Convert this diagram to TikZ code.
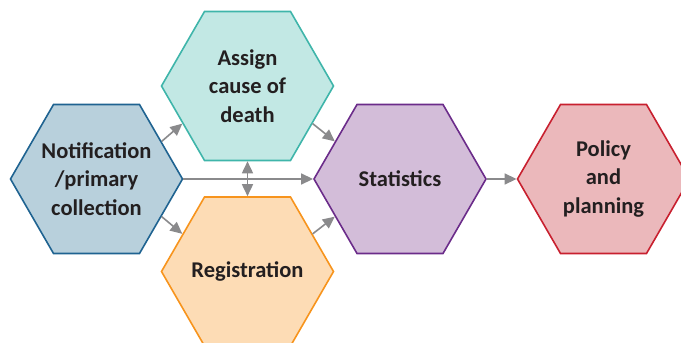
\documentclass[tikz,border=0pt]{standalone}
\usepackage{fontspec}
\setmainfont{Carlito}
\usetikzlibrary{shapes.geometric,arrows.meta}
\definecolor{txt}{HTML}{231F20}
\definecolor{arr}{HTML}{8A8A8C}
\definecolor{nfill}{HTML}{B8D0DC}\definecolor{ndraw}{HTML}{1F6391}
\definecolor{afill}{HTML}{C2E8E4}\definecolor{adraw}{HTML}{3FB5AA}
\definecolor{rfill}{HTML}{FDDCB5}\definecolor{rdraw}{HTML}{F7941D}
\definecolor{sfill}{HTML}{D3BDD9}\definecolor{sdraw}{HTML}{6B2C8A}
\definecolor{pfill}{HTML}{EBB8BB}\definecolor{pdraw}{HTML}{C8202F}
\tikzset{
  hexa/.style={regular polygon, regular polygon sides=6, minimum size=172pt,
    inner sep=0pt, line width=1.6pt},
  hexlab/.style={align=center, text=txt, inner sep=0pt,
    font=\fontsize{22.5}{28.5}\selectfont\bfseries},
  flow/.style={draw=arr, line width=1.6pt, -{Triangle[length=12pt,width=11pt]}},
  flow2/.style={draw=arr, line width=1.6pt, {Triangle[length=12pt,width=11pt]}-{Triangle[length=12pt,width=11pt]}}
}
\begin{document}
\begin{tikzpicture}[x=1pt,y=-1pt]
\useasboundingbox (0,0) rectangle (681,343);
\clip (0,0) rectangle (681,343);
\node[hexa, fill=nfill, draw=ndraw, label={[hexlab]center:Notification\\/primary\\collection}] (N) at (96.5,179) {};
\node[hexa, fill=afill, draw=adraw, label={[hexlab]center:Assign\\cause of\\death}] (A) at (247.5,86) {};
\node[hexa, fill=rfill, draw=rdraw, label={[hexlab]center:Registration}] (R) at (247.5,271.5) {};
\node[hexa, fill=sfill, draw=sdraw, label={[hexlab]center:Statistics}] (S) at (400,179) {};
\node[hexa, fill=pfill, draw=pdraw, label={[hexlab]center:Policy\\and\\planning}] (P) at (603.5,179) {};
\draw[flow] (N.30) -- (A.210);
\draw[flow] (N.-30) -- (R.150);
\draw[flow] (N.0) -- (S.180);
\draw[flow] (A.-30) -- (S.150);
\draw[flow] (R.30) -- (S.210);
\draw[flow] (S.0) -- (P.180);
\draw[flow2] (A.south) -- (R.north);
\end{tikzpicture}
\end{document}
